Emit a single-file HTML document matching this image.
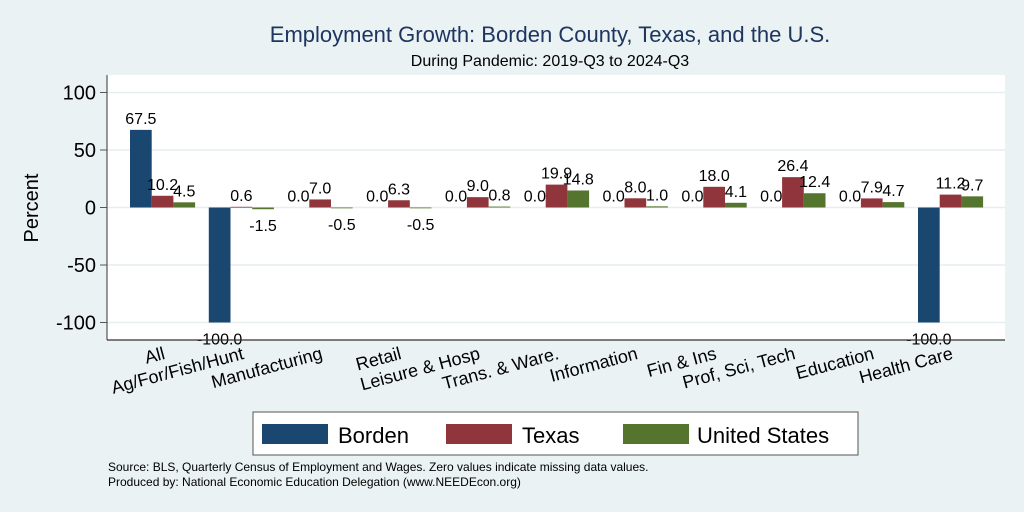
<!DOCTYPE html>
<html><head><meta charset="utf-8"><style>
body{margin:0;background:#eaf2f3;}
svg{display:block;font-family:"Liberation Sans",Arial,sans-serif;}
</style></head><body>
<svg width="1024" height="512" viewBox="0 0 1024 512">
<rect x="0" y="0" width="1024" height="512" fill="#eaf2f3"/>
<text x="550" y="42" text-anchor="middle" font-size="22" fill="#1e3560">Employment Growth: Borden County, Texas, and the U.S.</text>
<text x="550" y="66" text-anchor="middle" font-size="16" fill="#000">During Pandemic: 2019-Q3 to 2024-Q3</text>
<rect x="107" y="75" width="898" height="265" fill="#fff"/>
<g id="grid"></g>
<g id="bars"></g>
<g id="labels"></g>
<line x1="107" y1="75" x2="107" y2="340" stroke="#555" stroke-width="1.2"/>
<line x1="107" y1="340" x2="1005" y2="340" stroke="#333" stroke-width="1.2"/>
<text transform="translate(38,208) rotate(-90)" text-anchor="middle" font-size="20">Percent</text>
<g>
<rect x="253" y="412" width="605" height="43" fill="#fff" stroke="#555" stroke-width="1"/>
<rect x="262" y="424" width="66" height="20" fill="#1a476f"/>
<text x="338" y="443" font-size="22">Borden</text>
<rect x="446" y="424" width="66" height="20" fill="#90353b"/>
<text x="522" y="443" font-size="22">Texas</text>
<rect x="623" y="424" width="66" height="20" fill="#55752f"/>
<text x="697" y="443" font-size="22">United States</text>
</g>
<text x="108" y="471" font-size="12">Source: BLS, Quarterly Census of Employment and Wages. Zero values indicate missing data values.</text>
<text x="108" y="486" font-size="12">Produced by: National Economic Education Delegation (www.NEEDEcon.org)</text>
</svg>
<script>
const categories=["All","Ag/For/Fish/Hunt","Manufacturing","Retail","Leisure & Hosp","Trans. & Ware.","Information","Fin & Ins","Prof, Sci, Tech","Education","Health Care"];
const borden=[67.5,-100.0,0.0,0.0,0.0,0.0,0.0,0.0,0.0,0.0,-100.0];
const texas=[10.2,0.6,7.0,6.3,9.0,19.9,8.0,18.0,26.4,7.9,11.2];
const us=[4.5,-1.5,-0.5,-0.5,0.8,14.8,1.0,4.1,12.4,4.7,9.7];
const yTicks=[-100,-50,0,50,100];
const seriesNames=["borden","texas","us"];
const colors=["#1a476f","#90353b","#55752f"];
const NS="http://www.w3.org/2000/svg";
function y(v){return 207.5-v*1.15;}
function gx(i){return 130+i*78.8;}
const BW=21.7;
const grid=document.getElementById('grid'),bars=document.getElementById('bars'),labels=document.getElementById('labels');
function mk(tag,attrs,parent){const e=document.createElementNS(NS,tag);for(const k in attrs)e.setAttribute(k,attrs[k]);parent.appendChild(e);return e;}
yTicks.forEach(t=>{
 const g=mk('line',{x1:107,x2:1005,y1:y(t),y2:y(t),stroke:'#e6eeef','stroke-width':1.5},grid);
 
 
 const tk=mk('line',{x1:100,x2:107,y1:y(t),y2:y(t),stroke:'#555'},grid);
 
 
 const tl=mk('text',{x:96,y:y(t)+7,'text-anchor':'end','font-size':20},grid);
 tl.textContent=t;
 
 
});
[borden,texas,us].forEach((s,si)=>{
 s.forEach((v,i)=>{
  const x=gx(i)+si*BW;
  const y0=y(0),y1=y(v);
  const h=v===0?0:Math.max(Math.abs(y1-y0),0.8);
  const r=mk('rect',{x:x,y:Math.min(y0,y1),width:BW,height:h,fill:colors[si]},bars);
  
  
  const t=mk('text',{x:x+BW/2,y:v>=0?y1-6:y1+22,'text-anchor':'middle','font-size':16},labels);
  t.textContent=v.toFixed(1);
  
  
 });
});
categories.forEach((c,i)=>{
 const cx=gx(i)+BW*1.5+1;
 const t=mk('text',{x:cx,y:359,'text-anchor':'end','font-size':18,transform:'rotate(-15 '+cx+' 350)'},labels);
 t.textContent=c;
 
 
});
</script>
</body></html>
